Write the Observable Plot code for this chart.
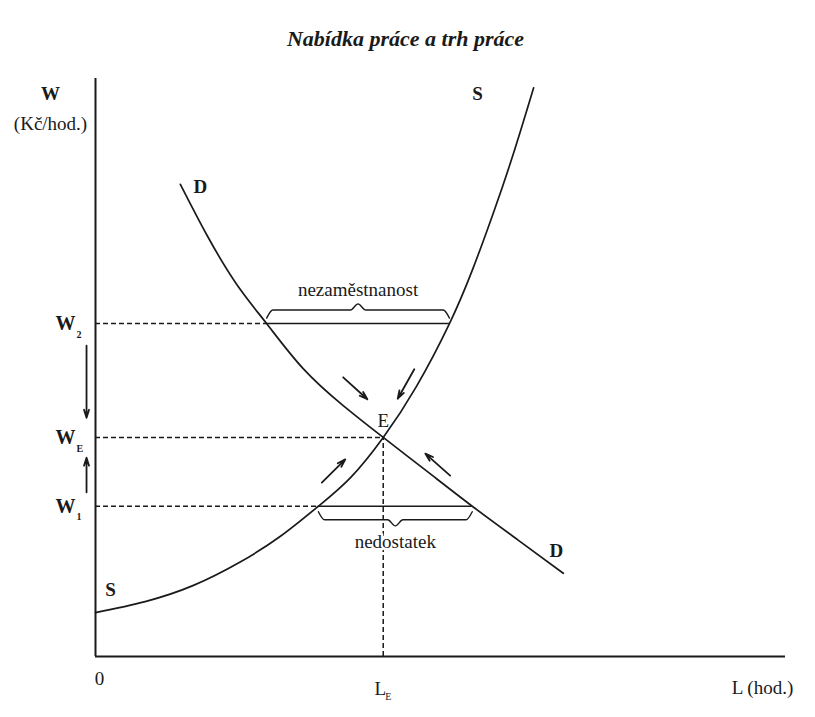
<!DOCTYPE html>
<html>
<head>
<meta charset="utf-8">
<script src="https://cdn.jsdelivr.net/npm/d3@7"></script>
<script src="https://cdn.jsdelivr.net/npm/@observablehq/plot@0.6"></script>
<style>
  html, body { margin: 0; padding: 0; background: #fff; }
</style>
</head>
<body>
<div id="chart"></div>
<script>
// ---- data (arbitrary units: L in hours, W in Kč/hour) ----
const title = "Nabídka práce a trh práce";

// supply curve S
const supplyL = [0.0, 7.2, 14.2, 20.9, 26.8, 32.3, 37.0, 41.7, 46.5, 51.3, 54.6, 57.8, 60.7, 63.5];
const supplyW = [7.6, 9.5, 12.3, 16.3, 20.8, 26.0, 31.0, 37.9, 46.7, 57.6, 66.8, 77.2, 87.5, 98.4];

// demand curve D
const demandL = [12.3, 16.2, 20.4, 24.8, 30.1, 35.9, 41.7, 48.3, 54.6, 61.3, 67.8];
const demandW = [81.7, 72.8, 64.5, 57.6, 49.8, 43.4, 37.9, 31.8, 26.0, 20.1, 14.4];

// equilibrium
const eqL = 41.7;
const eqW = 37.9;

// wage levels W2, WE, W1
const wageLevels = [57.6, 37.9, 26.0];
const wageSubs = ["2", "E", "1"];
// where the dashed guide meets the first curve
const wageDashEnd = [24.8, 41.7, 32.3];

// gaps: unemployment at W2 (D -> S), shortage at W1 (S -> D)
const gapLabels = ["nezaměstnanost", "nedostatek"];
const gapWage = [57.6, 26.0];
const gapStart = [24.8, 32.3];
const gapEnd = [51.3, 54.6];
const gapSide = [1, -1]; // brace above / below

// adjustment arrows
const arrowX1 = [35.9, 46.2, 32.8, 51.4, -1.3, -1.3];
const arrowY1 = [48.3, 49.7, 30.1, 31.3, 53.8, 28.4];
const arrowX2 = [39.4, 43.8, 36.2, 47.8, -1.3, -1.3];
const arrowY2 = [44.5, 44.6, 34.1, 35.1, 41.3, 34.4];

// ---- build tables ----
const supply = supplyL.map((l, i) => ({l, w: supplyW[i]}));
const demand = demandL.map((l, i) => ({l, w: demandW[i]}));
const wages = wageLevels.map((w, i) => ({w, sub: wageSubs[i], end: wageDashEnd[i]}));
const gaps = gapLabels.map((label, i) => ({label, w: gapWage[i], x0: gapStart[i], x1: gapEnd[i], side: gapSide[i]}));
const arrows = arrowX1.map((x1, i) => ({x1, y1: arrowY1[i], x2: arrowX2[i], y2: arrowY2[i]}));

// curly brace shape built from each gap
function brace(g) {
  const m = (g.x0 + g.x1) / 2, s = g.side;
  const h = 0.95 * s, a = 2.35 * s, t = 3.4 * s;
  return [
    [g.x0, g.w + h], [g.x0 + 0.9, g.w + a], [m - 1.1, g.w + a], [m, g.w + t],
    [m + 1.1, g.w + a], [g.x1 - 0.9, g.w + a], [g.x1, g.w + h]
  ].map(([x, y]) => ({x, y, id: g.label}));
}
const braces = gaps.flatMap(brace);

const font = "Liberation Serif, Times New Roman, serif";
const fs = 19;
const ink = "#1a1a1a";

const chart = Plot.plot({
  width: 815,
  height: 717,
  marginLeft: 95,
  marginRight: 30,
  marginTop: 78,
  marginBottom: 61,
  style: {background: "#fff", fontFamily: font},
  x: {domain: [0, 100], axis: null},
  y: {domain: [0, 100], axis: null},
  marks: [
    // dashed guides
    Plot.ruleY(wages, {y: "w", x1: 0, x2: "end", stroke: ink, strokeWidth: 1.5, strokeDasharray: "5,3"}),
    Plot.ruleX([eqL], {x: d => d, y1: 0, y2: eqW, stroke: ink, strokeWidth: 1.5, strokeDasharray: "5,3"}),
    // solid gap segments
    Plot.ruleY(gaps, {y: "w", x1: "x0", x2: "x1", stroke: ink, strokeWidth: 1.5}),
    // braces
    Plot.line(braces, {x: "x", y: "y", z: "id", curve: "monotone-x", stroke: ink, strokeWidth: 1.4}),
    // axes
    Plot.ruleX([0], {x: d => d, y1: 0, y2: 100, stroke: ink, strokeWidth: 2}),
    Plot.ruleY([0], {y: d => d, x1: 0, x2: 100, stroke: ink, strokeWidth: 2}),
    // curves
    Plot.line(supply, {x: "l", y: "w", curve: "natural", stroke: ink, strokeWidth: 1.7}),
    Plot.line(demand, {x: "l", y: "w", curve: "natural", stroke: ink, strokeWidth: 1.7}),
    // arrows
    Plot.arrow(arrows, {x1: "x1", y1: "y1", x2: "x2", y2: "y2", stroke: ink, strokeWidth: 1.8, headLength: 7, headAngle: 35}),
    // title
    Plot.text([title], {frameAnchor: "top", dx: -35, dy: -48, fontSize: 22, fontStyle: "italic", fontWeight: "bold", fill: ink}),
    // y axis title
    Plot.text(["W"], {x: 0, y: 100, dx: -45, dy: 15, fontSize: fs, fontWeight: "bold", fill: ink}),
    Plot.text(["(Kč/hod.)"], {x: 0, y: 100, dx: -45, dy: 45, fontSize: fs, fill: ink}),
    // wage tick labels
    Plot.text(wages, {x: 0, y: "w", text: () => "W", dx: -20, dy: 0, textAnchor: "end", fontSize: 20, fontWeight: "bold", fill: ink}),
    Plot.text(wages, {x: 0, y: "w", text: "sub", dx: -19, dy: 11, textAnchor: "start", fontSize: 10, fontWeight: "bold", fill: ink}),
    // x axis labels
    Plot.text(["0"], {x: 0, y: 0, dx: 4, dy: 22, fontSize: fs, fill: ink}),
    Plot.text(["L"], {x: eqL, y: 0, dx: -3, dy: 32, fontSize: fs, fill: ink}),
    Plot.text(["E"], {x: eqL, y: 0, dx: 5, dy: 40, fontSize: 10, fill: ink}),
    Plot.text(["L (hod.)"], {x: 100, y: 0, dx: -23, dy: 31, fontSize: fs, fill: ink}),
    // gap labels
    Plot.text(gaps, {filter: d => d.side > 0, x: d => (d.x0 + d.x1) / 2, y: "w", text: "label", dy: -34, fontSize: fs, fill: ink, stroke: "#fff", strokeWidth: 5, paintOrder: "stroke"}),
    Plot.text(gaps, {filter: d => d.side < 0, x: d => (d.x0 + d.x1) / 2, y: "w", text: "label", dy: 36, fontSize: fs, fill: ink, stroke: "#fff", strokeWidth: 5, paintOrder: "stroke"}),
    // curve labels
    Plot.text(["E"], {x: eqL, y: eqW, dy: -17, fontSize: fs, fill: ink}),
    Plot.text(["S"], {x: supplyL[0], y: supplyW[0], dx: 15, dy: -23, fontSize: fs, fontWeight: "bold", fill: ink}),
    Plot.text(["S"], {x: supplyL[supplyL.length - 1], y: supplyW[supplyW.length - 1], dx: -56, dy: 6, fontSize: fs, fontWeight: "bold", fill: ink}),
    Plot.text(["D"], {x: demandL[0], y: demandW[0], dx: 20, dy: 3, fontSize: fs, fontWeight: "bold", fill: ink}),
    Plot.text(["D"], {x: demandL[demandL.length - 1], y: demandW[demandW.length - 1], dx: -7, dy: -22, fontSize: fs, fontWeight: "bold", fill: ink})
  ]
});
document.getElementById("chart").append(chart);
</script>
</body>
</html>
